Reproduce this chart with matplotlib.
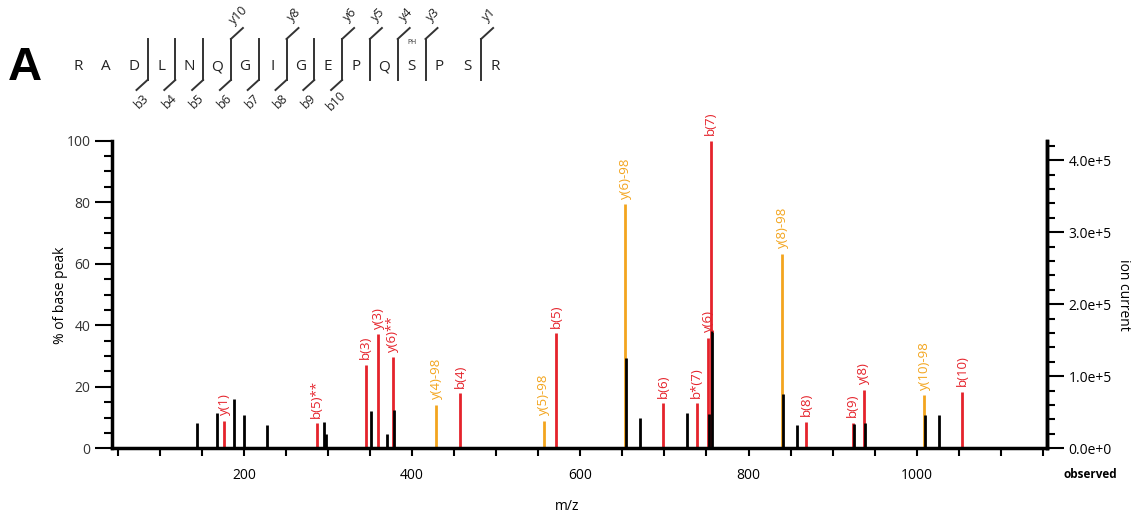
import matplotlib
matplotlib.use("Agg")
import matplotlib.pyplot as plt
from matplotlib.ticker import MultipleLocator, FuncFormatter

plt.rcParams['font.family'] = ['Open Sans', 'DejaVu Sans']

# peptide + fragment cuts
sequence = list("RADLNQGIGEPQSPSR")
b_ions = [3, 4, 5, 6, 7, 8, 9, 10]
y_ions = [10, 8, 6, 5, 4, 3, 1]
phospho_site = 12  # S (0-based index)

# annotated peaks (m/z, % of base peak, label)
red_mz = [176.3, 286.3, 344.5, 359.6, 377.0, 457.4, 571.0, 698.5, 738.5,
          751.9, 755.0, 868.3, 924.0, 937.2, 1054.0]
red_int = [9.0, 8.1, 27.1, 37.0, 29.6, 17.9, 37.4, 14.6, 14.6,
           36.0, 100.0, 8.7, 8.3, 19.0, 18.4]
red_lab = ['y(1)', 'b(5)**', 'b(3)', 'y(3)', 'y(6)**', 'b(4)', 'b(5)', 'b(6)', 'b*(7)',
           'y(6)', 'b(7)', 'b(8)', 'b(9)', 'y(8)', 'b(10)']

orange_mz = [428.9, 556.3, 653.7, 840.2, 1008.8]
orange_int = [14.1, 9.0, 79.3, 63.2, 17.3]
orange_lab = ['y(4)-98', 'y(5)-98', 'y(6)-98', 'y(8)-98', 'y(10)-98']

# unassigned peaks
black_mz = [144.6, 168.4, 188.1, 200.0, 227.0, 295.0, 297.0, 350.5, 370.3, 378.6,
            654.5, 671.5, 727.3, 753.5, 757.0, 840.6, 857.2, 926.0, 938.7, 1009.6, 1026.3]
black_int = [8.1, 11.4, 16.0, 10.9, 7.7, 8.6, 4.5, 12.1, 4.6, 12.5,
             29.5, 9.7, 11.4, 11.0, 38.1, 17.5, 7.6, 7.8, 8.1, 10.8, 10.8]

base_current = 4.27e5

RED = '#e5232b'
ORANGE = '#f3a51e'

W, H = 1133, 517
fig = plt.figure(figsize=(W / 100, H / 100), dpi=100)
ax = fig.add_axes([112 / W, 1 - 448.3 / H, (1047 - 112) / W, (448.3 - 140.7) / H])

ax.vlines(red_mz, 0, red_int, color=RED, lw=2)
ax.vlines(orange_mz, 0, orange_int, color=ORANGE, lw=2)
ax.vlines(black_mz, 0, black_int, color='black', lw=2)

for mz, it, lab in zip(red_mz, red_int, red_lab):
    ax.annotate(lab, (mz, it), xytext=(0, 4), textcoords='offset points',
                rotation=90, ha='center', va='bottom', color=RED, fontsize=9.5)
for mz, it, lab in zip(orange_mz, orange_int, orange_lab):
    ax.annotate(lab, (mz, it), xytext=(0, 4), textcoords='offset points',
                rotation=90, ha='center', va='bottom', color=ORANGE, fontsize=9.5)

ax.set_xlim(43, 1155)
ax.set_ylim(0, 100)
ax.xaxis.set_major_locator(MultipleLocator(200))
ax.xaxis.set_minor_locator(MultipleLocator(50))
ax.yaxis.set_major_locator(MultipleLocator(20))
ax.yaxis.set_minor_locator(MultipleLocator(5))
ax.tick_params(axis='x', which='both', length=6, width=1.5, labelsize=10, pad=8)
ax.tick_params(axis='y', which='major', length=12, width=1.5, labelsize=10, labelcolor='#333333')
ax.tick_params(axis='y', which='minor', length=6, width=1.5)
ax.spines['top'].set_visible(False)
for s in ['left', 'bottom', 'right']:
    ax.spines[s].set_linewidth(2.5)

ax2 = ax.twinx()
ax2.set_ylim(0, base_current)
ax2.yaxis.set_major_locator(MultipleLocator(1e5))
ax2.yaxis.set_minor_locator(MultipleLocator(2e4))
ax2.yaxis.set_major_formatter(FuncFormatter(lambda v, p: f"{v / 1e5:.1f}e+5" if v else "0.0e+0"))
ax2.tick_params(axis='y', which='major', length=12, width=1.5, labelsize=10)
ax2.tick_params(axis='y', which='minor', length=6, width=1.5)
ax2.spines['top'].set_visible(False)
ax2.spines['right'].set_linewidth(2.5)

fig.text(60 / W, 1 - 295 / H, '% of base peak', rotation=90, ha='center', va='center', fontsize=10)
fig.text(567 / W, 1 - 507 / H, 'm/z', ha='center', va='center', fontsize=10)
fig.text(1123 / W, 1 - 295 / H, 'ion current', rotation=270, ha='center', va='center', fontsize=10)
fig.text(1090 / W, 1 - 475 / H, 'observed', ha='center', va='center', fontsize=8.5, fontweight='bold')

# sequence / fragmentation diagram in pixel coordinates
ov = fig.add_axes([0, 0, 1, 1], zorder=-1)
ov.set_xlim(0, W)
ov.set_ylim(H, 0)
ov.axis('off')
ov.text(25, 68, 'A', fontsize=34, fontweight='bold', ha='center', va='center', family='Liberation Sans')

x0, step, yc = 78, 27.8, 67
for i, aa in enumerate(sequence):
    ov.text(x0 + step * i, yc, aa, ha='center', va='center', fontsize=11, color='#222222')
ov.text(x0 + step * phospho_site, 42, 'PH', ha='center', va='center', fontsize=5, color='#333333')

lc = '#333333'
cuts = sorted(set(b_ions) | set(len(sequence) - n for n in y_ions))
for k in cuts:
    xc = x0 + step * (k - 0.5)
    ov.plot([xc, xc], [39, 80], color=lc, lw=1.4)
for n in b_ions:
    xc = x0 + step * (n - 0.5)
    ov.plot([xc, xc - 11], [80, 90], color=lc, lw=1.4)
    ov.text(xc - 6, 101, f'b{n}', rotation=45, ha='center', va='center', fontsize=9, color='#222222')
for n in y_ions:
    xc = x0 + step * (len(sequence) - n - 0.5)
    ov.plot([xc, xc + 12], [39, 28], color=lc, lw=1.4)
    ov.text(xc + 8, 15, f'y{n}', rotation=45, ha='center', va='center', fontsize=9, color='#222222')

fig.savefig('out.png', dpi=100)
